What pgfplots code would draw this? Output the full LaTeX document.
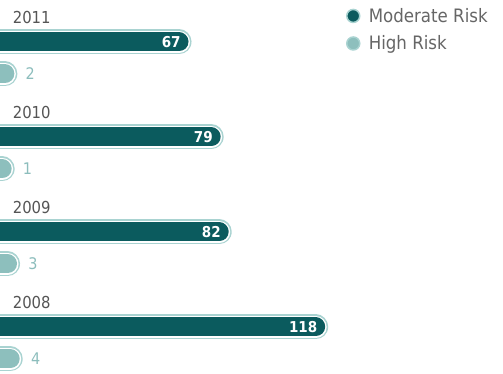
\documentclass[border=0pt]{standalone}
\usepackage{pgfplots}
\pgfplotsset{compat=1.18}
\usepackage{fontspec}
\IfFontExistsTF{Liberation Sans Narrow}{\setmainfont{Liberation Sans Narrow}}{\setmainfont{DejaVu Sans Condensed}}
\definecolor{modfill}{HTML}{0B5B5E}
\definecolor{pale}{HTML}{A9D3D1}
\definecolor{highfill}{HTML}{8DBFBD}
\definecolor{hightext}{HTML}{8CBDBC}
\definecolor{yeartext}{HTML}{555555}
\definecolor{legtext}{HTML}{666666}
\begin{document}
\begin{tikzpicture}
\begin{axis}[name=ax, scale only axis, width=503bp, height=374bp, hide axis,
  xmin=0.19, xmax=187.9, ymin=0, ymax=374, clip=true,
  /pgf/number format/assume math mode=true,
  legend style={at={(axis description cs:0.689,0.984)}, anchor=north west, draw=none, fill=none, inner sep=0pt,
    font=\fontsize{18.5bp}{21bp}\selectfont, text=legtext, row sep=8bp,
    /tikz/every odd column/.append style={column sep=7bp}},
  legend cell align=left,
]
\addlegendimage{only marks, mark=*, mark size=6.5bp, mark options={fill=modfill, draw=pale, line width=1.5bp}}
\addlegendentry{Moderate Risk}
\addlegendimage{only marks, mark=*, mark size=6.5bp, mark options={fill=highfill, draw=pale, line width=1.5bp}}
\addlegendentry{High Risk}

% Moderate Risk
\addplot[xcomb, forget plot, draw=modfill, line width=19bp, line cap=round,
  preaction={draw=pale, line width=25bp}, preaction={draw=white, line width=22bp},
  point meta=x, nodes near coords,
  every node near coord/.append style={anchor=east, xshift=12bp, inner sep=1bp, text=white, draw=none,
    font=\bfseries\fontsize{15bp}{18bp}\selectfont}]
  coordinates {(67,332) (79,237) (82,142) (118,47)};

% High Risk
\addplot[xcomb, forget plot, draw=highfill, line width=19bp, line cap=round,
  preaction={draw=pale, line width=25bp}, preaction={draw=white, line width=22bp},
  point meta=x, nodes near coords,
  every node near coord/.append style={anchor=west, xshift=8bp, text=hightext, draw=none,
    font=\fontsize{16bp}{19bp}\selectfont}]
  coordinates {(2,300) (1,205) (3,110) (4,15)};

\node[anchor=base west, inner sep=0pt, text=yeartext, font=\fontsize{16.5bp}{20bp}\selectfont] at (axis cs:4.9,350) {2011};
\node[anchor=base west, inner sep=0pt, text=yeartext, font=\fontsize{16.5bp}{20bp}\selectfont] at (axis cs:4.9,255) {2010};
\node[anchor=base west, inner sep=0pt, text=yeartext, font=\fontsize{16.5bp}{20bp}\selectfont] at (axis cs:4.9,160) {2009};
\node[anchor=base west, inner sep=0pt, text=yeartext, font=\fontsize{16.5bp}{20bp}\selectfont] at (axis cs:4.9,65) {2008};
\end{axis}
\pgfresetboundingbox
\path[use as bounding box] (ax.south west) rectangle (ax.north east);
\end{tikzpicture}
\end{document}
